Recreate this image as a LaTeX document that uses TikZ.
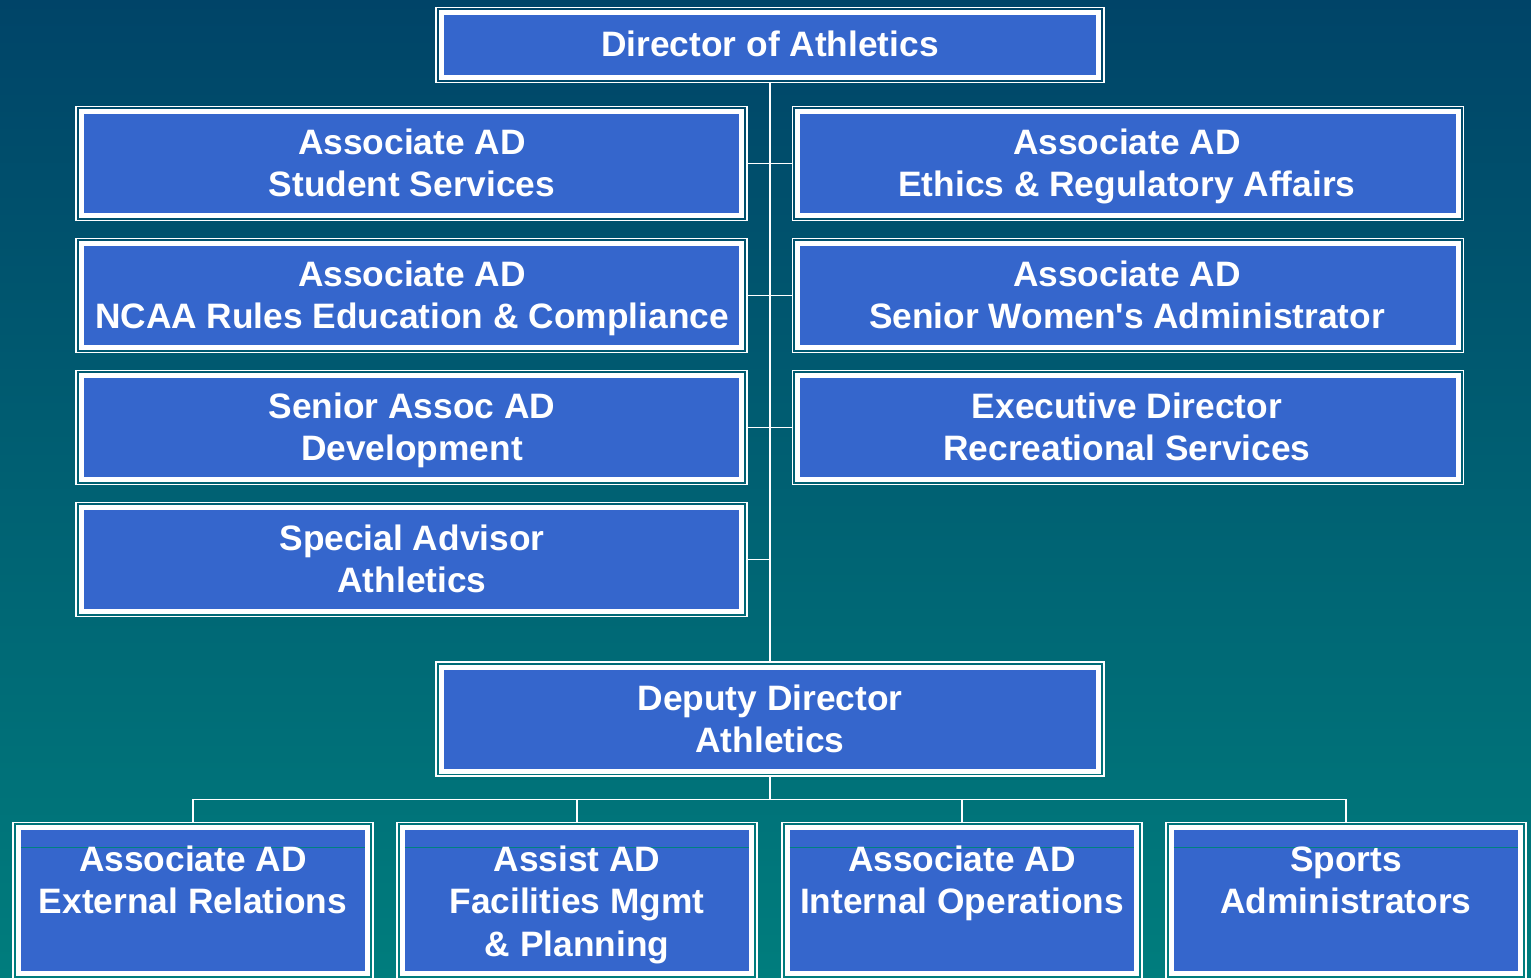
\documentclass[tikz,border=0pt]{standalone}
\usepackage{fontspec}
\newfontfamily\arialfont{Liberation Sans}
\usetikzlibrary{fit}
\definecolor{boxblue}{RGB}{53,102,204}
\definecolor{bgtop}{RGB}{0,68,104}
\definecolor{bgbot}{RGB}{0,125,125}
\definecolor{artline}{RGB}{0,128,128}
\newcommand\twol[2]{\begin{tabular}[t]{@{}c@{}}#1\\#2\end{tabular}}
\newcommand\threel[3]{\begin{tabular}[t]{@{}c@{}}#1\\#2\\#3\end{tabular}}
\tikzset{
  box/.style={draw=white, line width=0.1cm, fill=boxblue, inner sep=0pt, outer sep=0pt},
  widebox/.style={box, minimum width=13.22cm, minimum height=2.08cm},
  lowbox/.style={box, minimum width=7.0cm, minimum height=2.93cm},
  frame/.style={draw=white, line width=0.03cm, inner sep=0.1cm, outer sep=0pt},
  conn/.style={draw=white, line width=0.03cm},
  txt/.style={text=white, font=\arialfont\fontsize{20.1}{24.2}\selectfont\bfseries, inner sep=0pt, anchor=base},
  art/.style={draw=artline, line width=0.4pt}
}
\begin{document}
\begin{tikzpicture}[x=0.02cm,y=-0.02cm]
\useasboundingbox (0,0) rectangle (1531,977);
\clip (0,0) rectangle (1531,977);
\shade[top color=bgtop, bottom color=bgbot] (0,0) rectangle (1531,977);

% boxes
\node[box, minimum width=13.16cm, minimum height=1.3cm] (dir) at (770,45) {};
\node[widebox] (a1) at (411.5,163.4) {};
\node[widebox] (a2) at (411.5,295.4) {};
\node[widebox] (a3) at (411.5,427.4) {};
\node[widebox] (a4) at (411.5,559.4) {};
\node[widebox] (b1) at (1128,163.4) {};
\node[widebox] (b2) at (1128,295.4) {};
\node[widebox] (b3) at (1128,427.4) {};
\node[box, minimum width=13.16cm, minimum height=2.08cm] (dep) at (770,719) {};
\node[lowbox] (e1) at (193,900.75) {};
\node[lowbox] (e2) at (577,900.75) {};
\node[lowbox] (e3) at (962,900.75) {};
\node[lowbox] (e4) at (1346,900.75) {};

% outer frames
\foreach \n in {dir,a1,a2,a3,a4,b1,b2,b3,dep,e1,e2,e3,e4}
  \node[frame, fit=(\n)] (\n F) {};

% thin artefact lines in the lower boxes
\foreach \n in {e1,e2,e3,e4}
  \draw[art] ([xshift=0.05cm,yshift=-0.39cm]\n.north west) -- ([xshift=-0.05cm,yshift=-0.39cm]\n.north east);

% connectors
\draw[conn] (dirF.south) -- (depF.north);
\draw[conn] (a1F.east) -- (b1F.west);
\draw[conn] (a2F.east) -- (b2F.west);
\draw[conn] (a3F.east) -- (b3F.west);
\draw[conn] (a4F.east) -- (a4F.east -| dirF.south);
\coordinate (bus) at (770,799.5);
\draw[conn] (depF.south) -- (bus);
\draw[conn] (e1F.north) |- (bus) -| (e4F.north);
\draw[conn] (e2F.north) -- (e2F.north |- bus);
\draw[conn] (e3F.north) -- (e3F.north |- bus);

% texts
\node[txt] (tdir) at (770,56) {Director of Athletics};
\node[txt] (ta1) at (412,154) {\twol{Associate AD}{Student Services}};
\node[txt] (ta2) at (412,286) {\twol{Associate AD}{NCAA Rules Education \& Compliance}};
\node[txt] (ta3) at (412,418) {\twol{Senior Assoc AD}{Development}};
\node[txt] (ta4) at (412,550) {\twol{Special Advisor}{Athletics}};
\node[txt] (tb1) at (1127,154) {\twol{Associate AD}{Ethics \& Regulatory Affairs}};
\node[txt] (tb2) at (1127,286) {\twol{Associate AD}{Senior Women's Administrator}};
\node[txt] (tb3) at (1127,418) {\twol{Executive Director}{Recreational Services}};
\node[txt] (tdep) at (770,710) {\twol{Deputy Director}{Athletics}};
\node[txt] (te1) at (193,871) {\twol{Associate AD}{External Relations}};
\node[txt] (te2) at (577,871) {\threel{Assist AD}{Facilities Mgmt}{\& Planning}};
\node[txt] (te3) at (962,871) {\twol{Associate AD}{Internal Operations}};
\node[txt] (te4) at (1346,871) {\twol{Sports}{Administrators}};
\end{tikzpicture}
\end{document}
